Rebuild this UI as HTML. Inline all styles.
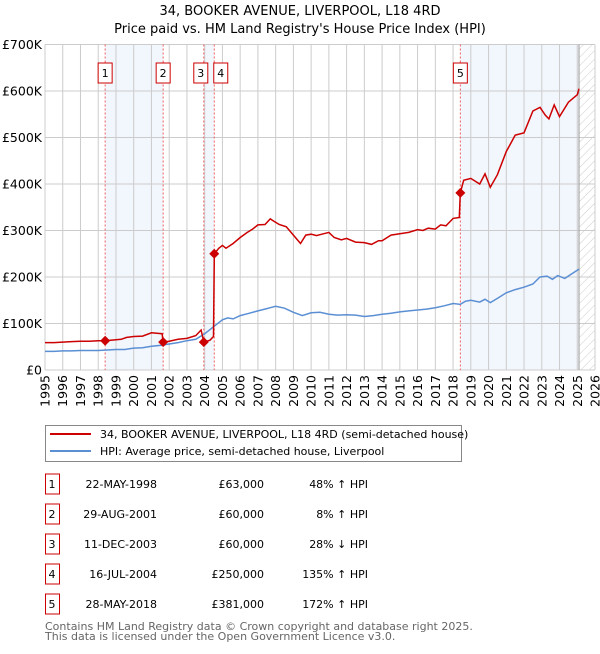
<!DOCTYPE html>
<html><head><meta charset="utf-8"><style>
body{margin:0;background:#fff;font-family:"DejaVu Sans","Liberation Sans",sans-serif;}
svg text{font-family:"DejaVu Sans","Liberation Sans",sans-serif;}
</style></head><body>
<svg id="c" width="600" height="650" xmlns="http://www.w3.org/2000/svg">
<defs><pattern id="hatch" width="6" height="6" patternUnits="userSpaceOnUse" patternTransform="rotate(45)"><line x1="0" y1="0" x2="0" y2="6" stroke="#ccc" stroke-width="1"/></pattern></defs>
<text x="300" y="15" text-anchor="middle" font-size="13">34, BOOKER AVENUE, LIVERPOOL, L18 4RD</text>
<text x="300" y="33" text-anchor="middle" font-size="13">Price paid vs. HM Land Registry's House Price Index (HPI)</text>
<g id="plot"></g>
<g>
<rect x="45.5" y="425.5" width="416" height="36" fill="#fff" stroke="#888"/>
<line x1="50" y1="434" x2="91" y2="434" stroke="#cc0000" stroke-width="2"/>
<text x="100" y="438" font-size="11">34, BOOKER AVENUE, LIVERPOOL, L18 4RD (semi-detached house)</text>
<line x1="50" y1="451" x2="91" y2="451" stroke="#5b8fd4" stroke-width="2"/>
<text x="100" y="455" font-size="11">HPI: Average price, semi-detached house, Liverpool</text>
</g>
<g id="table" font-size="11"></g>
<text x="45" y="630" font-size="11" fill="#666">Contains HM Land Registry data © Crown copyright and database right 2025.</text>
<text x="45" y="640" font-size="11" fill="#666">This data is licensed under the Open Government Licence v3.0.</text>
</svg>
<script>
const hpiYears=[1995,1995.5,1996,1996.5,1997,1997.5,1998,1998.5,1999,1999.5,2000,2000.5,2001,2001.5,2002,2002.5,2003,2003.5,2004,2004.5,2005,2005.3,2005.6,2006,2006.5,2007,2007.5,2007.7,2008,2008.5,2009,2009.5,2010,2010.5,2011,2011.5,2012,2012.5,2013,2013.5,2014,2014.5,2015,2015.5,2016,2016.5,2017,2017.5,2018,2018.4,2018.7,2019,2019.5,2019.8,2020.1,2020.5,2021,2021.5,2022,2022.5,2022.9,2023.3,2023.6,2023.9,2024.3,2024.7,2025.1];
const hpiValues=[40,40,41,41,42,42,42,43,44,44,47,48,51,53,56,59,63,66,78,93,108,112,110,117,122,127,132,134,137,133,124,117,123,124,120,118,119,118,115,117,120,122,125,127,129,131,134,138,143,141,148,150,146,152,145,154,166,173,178,185,200,202,195,203,197,207,217];
const saleYears=[1998.39,2001.66,2003.95,2004.54,2018.41];
const saleValues=[63000,60000,60000,250000,381000];
const priceYears=[1995,1995.5,1996,1996.5,1997,1997.5,1998,1998.39,1998.7,1999,1999.3,1999.6,2000,2000.5,2001,2001.3,2001.6,2001.66,2002,2002.5,2003,2003.5,2003.8,2003.95,2004.3,2004.5,2004.54,2004.8,2005,2005.2,2005.6,2006,2006.4,2006.7,2007,2007.4,2007.7,2007.9,2008.2,2008.6,2009,2009.4,2009.7,2010,2010.3,2010.6,2011,2011.3,2011.7,2012,2012.5,2013,2013.4,2013.8,2014,2014.5,2015,2015.5,2016,2016.3,2016.6,2017,2017.3,2017.6,2018,2018.35,2018.41,2018.6,2019,2019.5,2019.8,2020.1,2020.5,2021,2021.5,2022,2022.5,2022.9,2023.2,2023.4,2023.7,2024,2024.5,2025,2025.1];
const priceValues=[59,59,60,61,62,62,63,63,64,65,66,70,72,73,80,79,78,60,62,66,68,74,86,60,64,72,250,262,268,262,272,285,296,303,312,313,325,320,313,308,290,272,290,292,289,292,296,285,280,283,275,274,270,278,278,290,293,296,302,300,305,303,312,310,326,328,381,408,412,400,422,393,420,470,505,510,557,565,548,540,570,545,576,592,605];
const tickYears=[1995,1996,1997,1998,1999,2000,2001,2002,2003,2004,2005,2006,2007,2008,2009,2010,2011,2012,2013,2014,2015,2016,2017,2018,2019,2020,2021,2022,2023,2024,2025,2026];
const yTicks=[0,100000,200000,300000,400000,500000,600000,700000];
const yTickLabels=["£0","£100K","£200K","£300K","£400K","£500K","£600K","£700K"];
const saleLabels=["1","2","3","4","5"];
const saleDates=["22-MAY-1998","29-AUG-2001","11-DEC-2003","16-JUL-2004","28-MAY-2018"];
const salePrices=["£63,000","£60,000","£60,000","£250,000","£381,000"];
const saleHpi=["48% ↑ HPI","8% ↑ HPI","28% ↓ HPI","135% ↑ HPI","172% ↑ HPI"];

const NS="http://www.w3.org/2000/svg";
const L=45,R=595,T=44.5,B=370,X0=1995,X1=2026,YMAX=700000,DATA_END=2025.1;
const x=y=>L+(y-X0)/(X1-X0)*(R-L);
const yv=v=>B-v/YMAX*(B-T);
const g=document.getElementById('plot');
function mk(tag,attrs,parent){const e=document.createElementNS(NS,tag);for(const k in attrs)e.setAttribute(k,attrs[k]);(parent||g).appendChild(e);return e;}
// shading between sales
const shadePairs=[[0,1],[2,3]];
shadePairs.forEach(p=>{const r=mk('rect',{x:x(saleYears[p[0]]),y:T,width:x(saleYears[p[1]])-x(saleYears[p[0]]),height:B-T,fill:'#eef3fc',opacity:0.75});

});
{const r=mk('rect',{x:x(saleYears[4]),y:T,width:x(DATA_END)-x(saleYears[4]),height:B-T,fill:'#eef3fc',opacity:0.75});

}
{const r=mk('rect',{x:x(DATA_END),y:T,width:R-x(DATA_END),height:B-T,fill:'url(#hatch)'});

}
// grid
tickYears.forEach(t=>{const l=mk('line',{x1:x(t),x2:x(t),y1:T,y2:B,stroke:'#ccc','stroke-width':1});


const tx=mk('text',{x:0,y:0,'font-size':12.5,'text-anchor':'end',transform:`translate(${x(t)+4.5},${B+5}) rotate(-90)`});tx.textContent=t;

});
yTicks.forEach((t,i)=>{const l=mk('line',{x1:L,x2:R,y1:yv(t),y2:yv(t),stroke:'#ccc','stroke-width':1});


const tx=mk('text',{x:L-3,y:yv(t)+4.5,'font-size':12.5,'text-anchor':'end'});tx.textContent=yTickLabels[i];

});
{const l=mk('line',{x1:x(DATA_END),x2:x(DATA_END),y1:T,y2:B,stroke:'#999','stroke-width':1});

}
// sale vlines and markers
saleYears.forEach((s,i)=>{const l=mk('line',{x1:x(s),x2:x(s),y1:T,y2:B,stroke:'#f06060','stroke-width':1,'stroke-dasharray':'2,2'});


let bx=x(s)-7;if(i===2)bx=x(s)-10;if(i===3)bx=x(s)-0.5;
const r=mk('rect',{x:bx,y:63,width:14,height:20,fill:'#fff',stroke:'#cc0000'});


const tx=mk('text',{x:bx+7,y:77,'font-size':11,'text-anchor':'middle'});tx.textContent=saleLabels[i];

});
const path=(xs,vs,mul)=>xs.map((t,i)=>(i?'L':'M')+x(t).toFixed(1)+','+yv(vs[i]*mul).toFixed(1)).join('');
{const p=mk('path',{d:path(hpiYears,hpiValues,1000),fill:'none',stroke:'#5b8fd4','stroke-width':1.5});

}
{const p=mk('path',{d:path(priceYears,priceValues,1000),fill:'none',stroke:'#cc0000','stroke-width':1.5});

}
saleYears.forEach((s,i)=>{const cx=x(s),cy=yv(saleValues[i]);
const d=mk('path',{d:`M${cx},${cy-5}L${cx+5},${cy}L${cx},${cy+5}L${cx-5},${cy}Z`,fill:'#cc0000'});

});
// table
const tb=document.getElementById('table');
saleLabels.forEach((lab,i)=>{const y0=474+i*30;
const r=mk('rect',{x:45.5,y:y0,width:14,height:20,fill:'#fff',stroke:'#cc0000'},tb);


const cells=[[52,lab,'middle','table-sale-number'],[157,saleDates[i],'end','table-sale-date'],[264,salePrices[i],'end','table-sale-price'],[368,saleHpi[i],'end','table-sale-hpi']];
cells.forEach(c=>{const t=mk('text',{x:c[0],y:y0+14,'text-anchor':c[2]},tb);t.textContent=c[1];

});});
</script>
</body></html>
